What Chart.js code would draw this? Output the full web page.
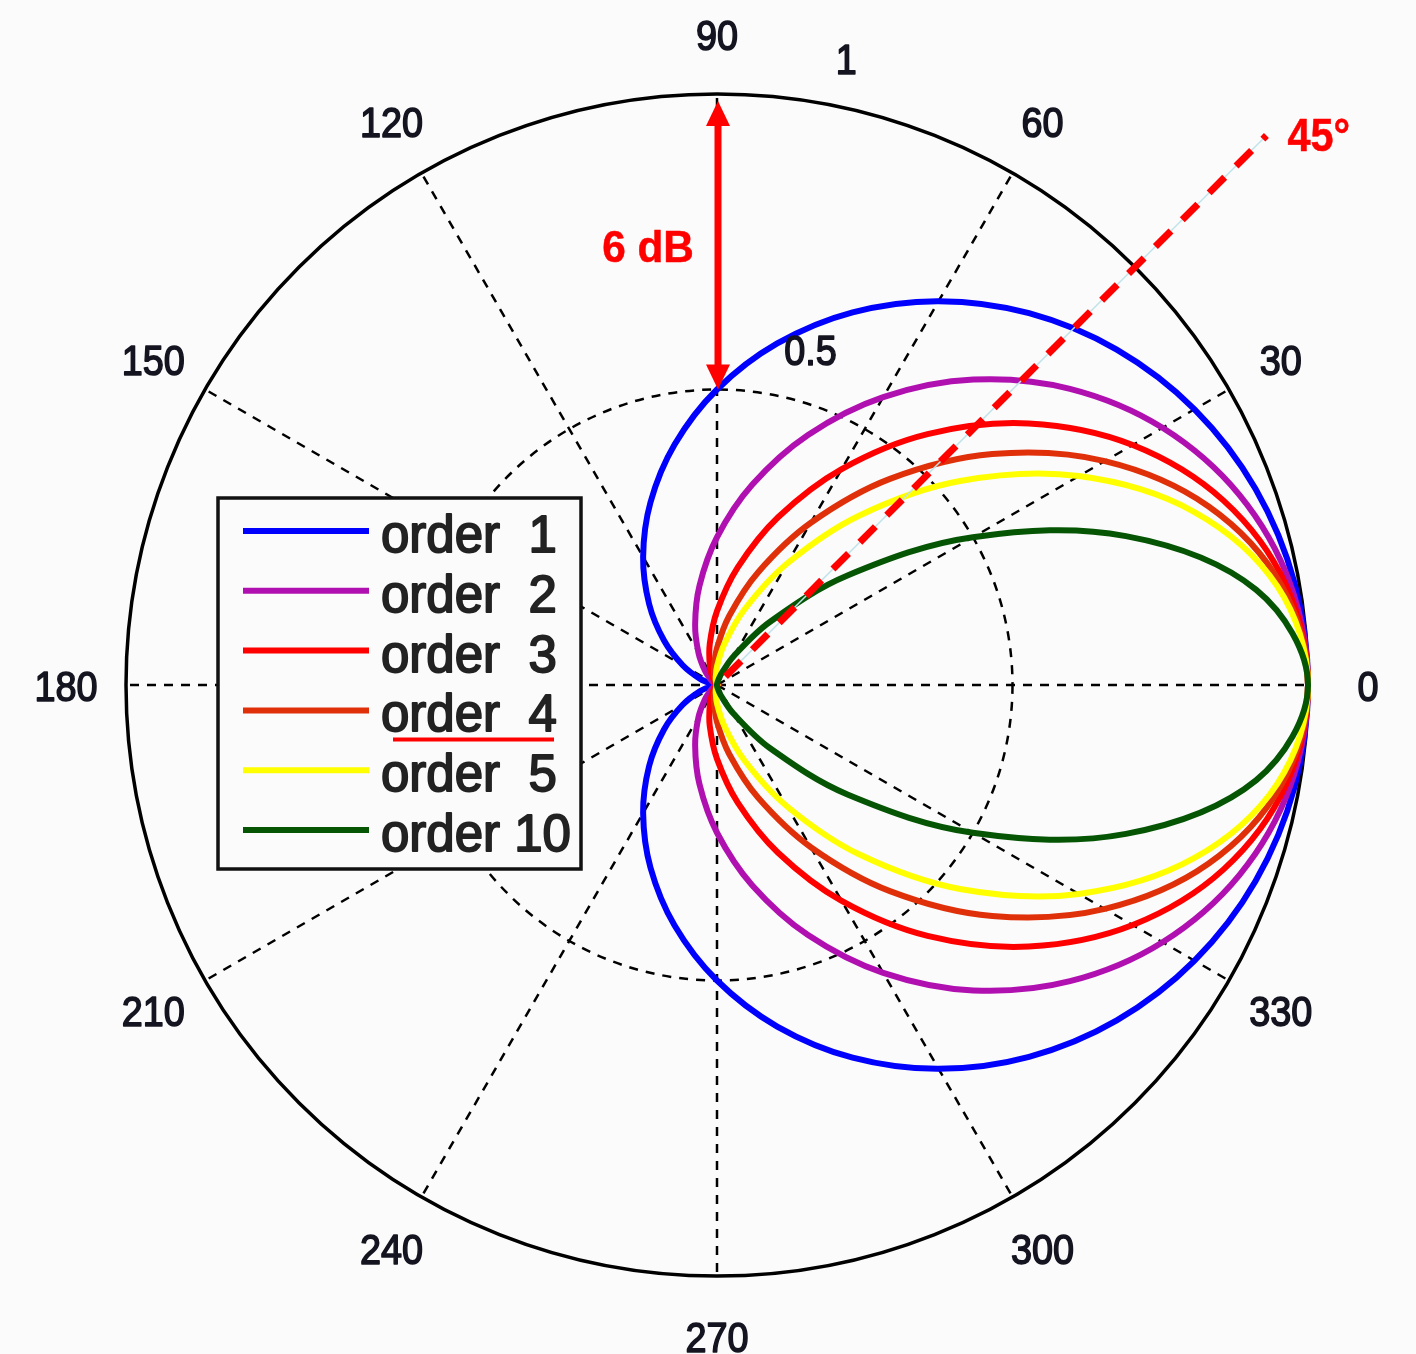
<!DOCTYPE html>
<html>
<head>
<meta charset="utf-8">
<title>Directivity pattern by order</title>
<script src="https://cdn.jsdelivr.net/npm/chart.js@4.4.1/dist/chart.umd.min.js"></script>
<style>
  html, body { margin: 0; padding: 0; background: #fbfbfb; }
  #wrap { position: relative; width: 1416px; height: 1354px; }
</style>
</head>
<body>
<div id="wrap"><canvas id="polar"></canvas></div>
<script>
// Sample angles in degrees, counter-clockwise from 0°
const angles = [0, 10, 20, 30, 40, 50, 60, 70, 80, 90, 100, 110, 120, 130, 140, 150, 160, 170,
                180, 190, 200, 210, 220, 230, 240, 250, 260, 270, 280, 290, 300, 310, 320, 330, 340, 350];

// Normalised amplitude of each order at those angles
const order1 = [1, 0.9924, 0.9698, 0.9330, 0.8830, 0.8214, 0.75, 0.6710, 0.5868, 0.5, 0.4132, 0.3290, 0.25, 0.1786, 0.1170, 0.0670, 0.0302, 0.0076,
                0, 0.0076, 0.0302, 0.0670, 0.1170, 0.1786, 0.25, 0.3290, 0.4132, 0.5, 0.5868, 0.6710, 0.75, 0.8214, 0.8830, 0.9330, 0.9698, 0.9924];
const order2 = [1, 0.9849, 0.9406, 0.8705, 0.7797, 0.6747, 0.5625, 0.4503, 0.3444, 0.25, 0.1707, 0.1082, 0.0625, 0.0319, 0.0137, 0.0045, 0.0009, 0.0001,
                0, 0.0001, 0.0009, 0.0045, 0.0137, 0.0319, 0.0625, 0.1082, 0.1707, 0.25, 0.3444, 0.4503, 0.5625, 0.6747, 0.7797, 0.8705, 0.9406, 0.9849];
const order3 = [1, 0.9774, 0.9122, 0.8122, 0.6885, 0.5542, 0.4219, 0.3021, 0.2021, 0.125, 0.0705, 0.0356, 0.0156, 0.0057, 0.0016, 0.0003, 0, 0,
                0, 0, 0, 0.0003, 0.0016, 0.0057, 0.0156, 0.0356, 0.0705, 0.125, 0.2021, 0.3021, 0.4219, 0.5542, 0.6885, 0.8122, 0.9122, 0.9774];
const order4 = [1, 0.9700, 0.8847, 0.7578, 0.6080, 0.4552, 0.3164, 0.2027, 0.1186, 0.0625, 0.0291, 0.0117, 0.0039, 0.0010, 0.0002, 0, 0, 0,
                0, 0, 0, 0, 0.0002, 0.0010, 0.0039, 0.0117, 0.0291, 0.0625, 0.1186, 0.2027, 0.3164, 0.4552, 0.6080, 0.7578, 0.8847, 0.9700];
const order5 = [1, 0.9626, 0.8581, 0.7070, 0.5369, 0.3739, 0.2373, 0.1360, 0.0696, 0.0313, 0.0120, 0.0039, 0.0010, 0.0002, 0, 0, 0, 0,
                0, 0, 0, 0, 0, 0.0002, 0.0010, 0.0039, 0.0120, 0.0313, 0.0696, 0.1360, 0.2373, 0.3739, 0.5369, 0.7070, 0.8581, 0.9626];
const order10 = [1, 0.9266, 0.7363, 0.4999, 0.2882, 0.1398, 0.0563, 0.0185, 0.0048, 0.0010, 0.0001, 0, 0, 0, 0, 0, 0, 0,
                 0, 0, 0, 0, 0, 0, 0, 0, 0.0001, 0.0010, 0.0048, 0.0185, 0.0563, 0.1398, 0.2882, 0.4999, 0.7363, 0.9266];

const seriesValues = [order1, order2, order3, order4, order5, order10];
const seriesLabels = ['order  1', 'order  2', 'order  3', 'order  4', 'order  5', 'order 10'];
const seriesColors = ['#0000ff', '#b010b0', '#ff0000', '#e0300a', '#ffff00', '#055505'];

// Axis labelling
const angleTicks = [0, 30, 60, 90, 120, 150, 180, 210, 240, 270, 300, 330];
const radialTicks = [0.5, 1];
const radialTickText = ['0.5', '1'];

// Annotations
const gainSpan = [0.5, 1];      // double arrow between these radii
const gainText = '6 dB';
const markerAngle = 45;          // dashed guide line
const markerText = '45°';
const highlightedSeries = 3;     // legend entry that gets underlined

// The radar scale runs clockwise; index i sits at -i*10 degrees.
const chartLabels = angles.map((a, i) => String((360 - angles[i]) % 360));
const datasets = seriesValues.map((vals, k) => ({
  label: seriesLabels[k],
  data: chartLabels.map(lbl => vals[angles.indexOf(Number(lbl))]),
  borderColor: seriesColors[k],
  backgroundColor: 'rgba(0,0,0,0)',
  borderWidth: 6,
  fill: false,
  tension: 0.35,
  pointRadius: 0,
  pointHitRadius: 0,
  order: seriesValues.length - 1 - k
}));

const FONT = '"Liberation Sans", Arial, Helvetica, sans-serif';
const RAD = Math.PI / 180;

function polarAt(scale, angleDeg, dist) {
  return {
    x: scale.xCenter + Math.cos(angleDeg * RAD) * dist,
    y: scale.yCenter - Math.sin(angleDeg * RAD) * dist
  };
}

// heavier text: fill plus a thin outline of the same colour
function heavyText(ctx, text, x, y, sx, weight) {
  ctx.save();
  ctx.translate(x, y);
  ctx.scale(sx, 1);
  ctx.lineWidth = weight;
  ctx.lineJoin = 'round';
  ctx.strokeStyle = ctx.fillStyle;
  ctx.strokeText(text, 0, 0);
  ctx.fillText(text, 0, 0);
  ctx.restore();
}

const polarDecor = {
  id: 'polarDecor',
  afterDatasetsDraw(chart) {
    const ctx = chart.ctx;
    const r = chart.scales.r;
    const R = r.drawingArea;

    // 45° guide line
    const a = polarAt(r, markerAngle, 12);
    const b = polarAt(r, markerAngle, R + 186);
    ctx.save();
    ctx.strokeStyle = '#bfe3ea';
    ctx.lineWidth = 1.5;
    ctx.beginPath(); ctx.moveTo(a.x, a.y); ctx.lineTo(b.x, b.y); ctx.stroke();
    ctx.strokeStyle = '#ff0000';
    ctx.lineWidth = 7;
    ctx.setLineDash([22, 16]);
    ctx.beginPath(); ctx.moveTo(a.x, a.y); ctx.lineTo(b.x, b.y); ctx.stroke();
    ctx.restore();

    ctx.save();
    ctx.fillStyle = '#ff0000';
    ctx.font = 'bold 46px ' + FONT;
    ctx.textAlign = 'left';
    ctx.textBaseline = 'alphabetic';
    heavyText(ctx, markerText, b.x + 21, b.y + 15, 0.9, 0.5);
    ctx.restore();

    // angle labels
    ctx.save();
    ctx.fillStyle = '#141420';
    ctx.font = '43px ' + FONT;
    ctx.textAlign = 'center';
    ctx.textBaseline = 'alphabetic';
    angleTicks.forEach(t => {
      const p = polarAt(r, t, R + 60);
      heavyText(ctx, String(t), p.x, p.y + 15.5, 0.88, 1.6);
    });
    // radial labels
    ctx.textAlign = 'left';
    radialTicks.forEach((v, i) => {
      const p = polarAt(r, 80, r.getDistanceFromCenterForValue(v));
      heavyText(ctx, radialTickText[i], p.x + 16, p.y - 29, 0.88, 1.6);
    });
    ctx.restore();

    // 6 dB double arrow
    const top = polarAt(r, 90, r.getDistanceFromCenterForValue(gainSpan[1]));
    const bot = polarAt(r, 90, r.getDistanceFromCenterForValue(gainSpan[0]));
    const ax = top.x + 1;
    const tipTop = top.y + 7;
    const tipBot = bot.y;
    ctx.save();
    ctx.fillStyle = '#ff0000';
    ctx.strokeStyle = '#ff0000';
    ctx.lineWidth = 7;
    ctx.beginPath(); ctx.moveTo(ax, tipTop + 20); ctx.lineTo(ax, tipBot - 20); ctx.stroke();
    ctx.beginPath();
    ctx.moveTo(ax, tipTop); ctx.lineTo(ax - 12, tipTop + 25); ctx.lineTo(ax + 12, tipTop + 25); ctx.closePath(); ctx.fill();
    ctx.beginPath();
    ctx.moveTo(ax, tipBot); ctx.lineTo(ax - 12, tipBot - 25); ctx.lineTo(ax + 12, tipBot - 25); ctx.closePath(); ctx.fill();
    ctx.font = 'bold 45px ' + FONT;
    ctx.textAlign = 'center';
    heavyText(ctx, gainText, ax - 70, 262, 0.94, 0.5);
    ctx.restore();

    // legend box
    const bx = 218, by = 498, bw = 363, bh = 371;
    ctx.save();
    ctx.fillStyle = '#fbfbfb';
    ctx.fillRect(bx, by, bw, bh);
    ctx.strokeStyle = '#111';
    ctx.lineWidth = 3.5;
    ctx.strokeRect(bx, by, bw, bh);
    ctx.font = '51px ' + FONT;
    ctx.textAlign = 'left';
    ctx.textBaseline = 'alphabetic';
    chart.data.datasets.forEach((ds, i) => {
      const base = 552 + i * 59.8;
      ctx.strokeStyle = ds.borderColor;
      ctx.lineWidth = 6;
      ctx.beginPath(); ctx.moveTo(243, base - 21); ctx.lineTo(369, base - 21); ctx.stroke();
      ctx.fillStyle = '#222';
      heavyText(ctx, ds.label, 381, base, 1.0, 1.8);
      if (i === highlightedSeries) {
        ctx.strokeStyle = '#ff0000';
        ctx.lineWidth = 4;
        ctx.beginPath(); ctx.moveTo(393, base + 8); ctx.lineTo(554, base + 8); ctx.stroke();
      }
    });
    ctx.restore();
  }
};

new Chart(document.getElementById('polar'), {
  type: 'radar',
  data: { labels: chartLabels, datasets: datasets },
  options: {
    responsive: true,
    maintainAspectRatio: false,
    animation: false,
    events: [],
    layout: { padding: { left: 126, right: 108, top: 94, bottom: 78 } },
    plugins: { legend: { display: false }, tooltip: { enabled: false } },
    scales: {
      r: {
        min: 0,
        max: 1,
        startAngle: 90,
        ticks: { display: false, stepSize: 0.5 },
        pointLabels: { display: false },
        grid: {
          circular: true,
          color: '#000',
          lineWidth: c => (c.tick && c.tick.value === 1 ? 3.5 : 2.5)
        },
        border: {
          dash: c => (c.tick && c.tick.value === 1 ? [] : [9, 8])
        },
        angleLines: {
          display: true,
          color: c => (Number(c.label) % 30 === 0 ? '#000' : 'rgba(0,0,0,0)'),
          lineWidth: c => (Number(c.label) % 30 === 0 ? 2.5 : 0),
          borderDash: [9, 8]
        }
      }
    }
  },
  plugins: [polarDecor]
});
</script>
</body>
</html>
